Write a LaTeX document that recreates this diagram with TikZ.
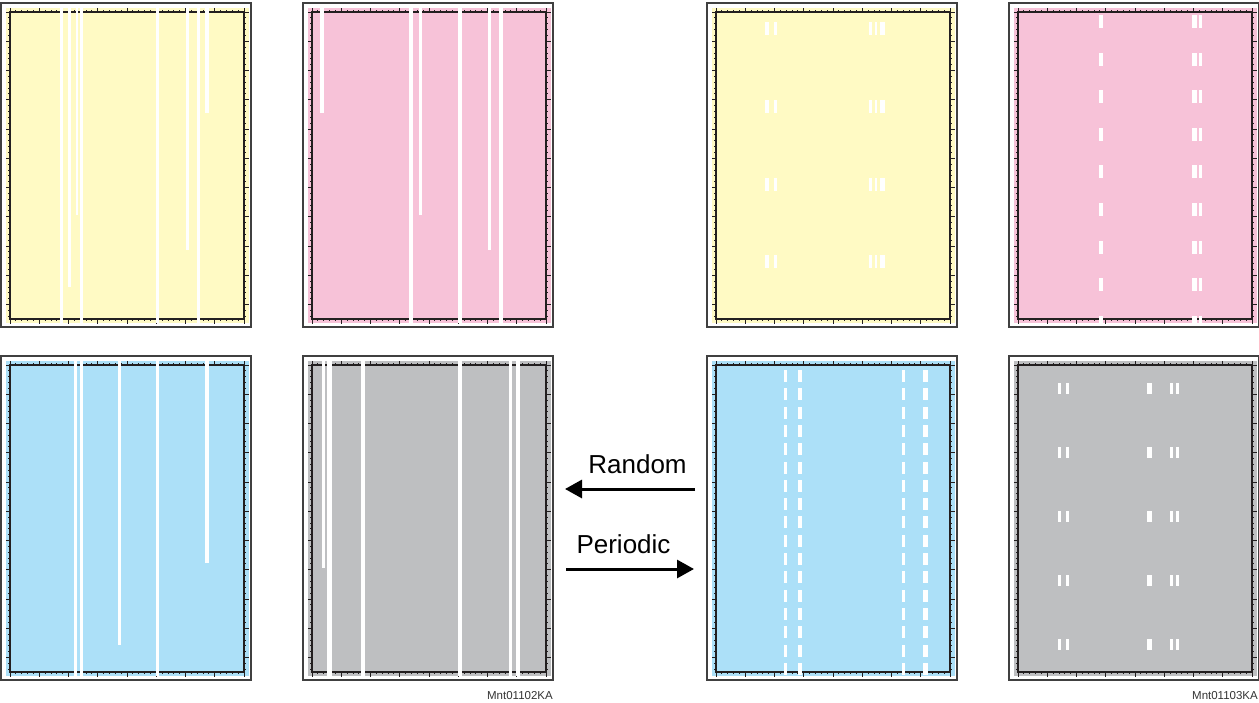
\documentclass[tikz,border=0pt]{standalone}
\usepackage{fontspec}
\setmainfont{Liberation Sans}
\usetikzlibrary{arrows.meta}

\definecolor{tonerY}{RGB}{255,250,196}
\definecolor{tonerM}{RGB}{247,194,216}
\definecolor{tonerC}{RGB}{172,224,248}
\definecolor{tonerK}{RGB}{190,191,193}
\definecolor{rulerink}{RGB}{35,31,32}

\tikzset{
  panelframe/.style={draw=black!75, line width=1.3pt},
  ruler/.style={draw=rulerink, line width=1.6pt},
  rulertick/.style={draw=rulerink, line width=0.9pt},
  streak/.style={fill=white},
  feed/.style={line width=3pt, -{Triangle[length=17pt, width=18pt]}},
  feedtext/.style={font=\fontsize{26}{30}\selectfont, anchor=base, inner sep=0pt},
  partno/.style={font=\fontsize{11.5}{13}\selectfont, text=black!80, anchor=base east, inner sep=0pt}
}

% one test print: frame, toner area and the ruler round it
\newcommand\drawpanel[3]{% x0, y0, toner colour
  \begin{scope}[shift={(#1,#2)}]
    \draw[panelframe] (0,0) rectangle (250,324);
    \fill[#3] (5,5) rectangle (248,320);
    \draw[ruler] (9,9) rectangle (243,316);
    \foreach \i in {0,...,40} {
      \pgfmathsetmacro\tk{2+2.5*(mod(\i,5)==0)}
      \draw[rulertick] (9+\i*5.85,9) -- ++(0,-\tk);
      \draw[rulertick] (9+\i*5.85,316) -- ++(0,\tk);
    }
    \foreach \i in {0,...,52} {
      \pgfmathsetmacro\tk{2+2.5*(mod(\i,5)==0)}
      \draw[rulertick] (9,9+\i*5.85) -- ++(-\tk,0);
      \draw[rulertick] (243,9+\i*5.85) -- ++(\tk,0);
    }
  \end{scope}}

\begin{document}
\begin{tikzpicture}[x=1pt, y=-1pt]
  \useasboundingbox (0,0) rectangle (1259,702);

  % random streaks
  \drawpanel{1}{3}{tonerY}
  \foreach \xl/\xr/\ye in {60/62.5/323, 68/71/287, 75.5/78/215, 80/83/323,
      156/159/323, 186/188.5/250, 197/200/323, 205/209/113}
    \fill[streak] (\xl,8) rectangle (\xr,\ye);

  \drawpanel{303}{3}{tonerM}
  \foreach \xl/\xr/\ye in {320/324/113, 409/413/323, 419/422/215,
      458/462/323, 488/490.5/250, 499/503/323}
    \fill[streak] (\xl,8) rectangle (\xr,\ye);

  \drawpanel{1}{356}{tonerC}
  \foreach \xl/\xr/\ye in {73.5/76.5/676, 80/83/676, 118/121/645,
      156/159/676, 205/209/563}
    \fill[streak] (\xl,361) rectangle (\xr,\ye);

  \drawpanel{303}{356}{tonerK}
  \foreach \xl/\xr/\ye in {322/324.5/568, 327/332/676, 361/365/676,
      458/462/676, 509/512/676, 516/520/676}
    \fill[streak] (\xl,361) rectangle (\xr,\ye);

  % periodic streaks
  \drawpanel{707}{3}{tonerY}
  \begin{scope}
    \clip (712,8) rectangle (955,323);
    \foreach \xl/\xr in {765/768.5, 774/776.5, 869/871.5, 874.5/877, 880/885}
      \foreach \k in {0,...,3}
        \fill[streak] (\xl,22+77.8*\k) rectangle (\xr,35+77.8*\k);
  \end{scope}

  \drawpanel{1009}{3}{tonerM}
  \begin{scope}
    \clip (1014,8) rectangle (1257,323);
    \foreach \xl/\xr in {1099/1103, 1192/1196.5, 1199/1202}
      \foreach \k in {0,...,8}
        \fill[streak] (\xl,15+37.6*\k) rectangle (\xr,28+37.6*\k);
  \end{scope}

  \drawpanel{707}{356}{tonerC}
  \begin{scope}
    \clip (712,361) rectangle (955,676);
    \foreach \xl/\xr in {784/786.5, 798/802, 902/904.5, 923/928}
      \foreach \k in {0,...,16}
        \fill[streak] (\xl,370+18.3*\k) rectangle (\xr,382+18.3*\k);
  \end{scope}

  \drawpanel{1009}{356}{tonerK}
  \begin{scope}
    \clip (1014,361) rectangle (1257,676);
    \foreach \xl/\xr in {1058/1061, 1066/1069, 1147/1151.5, 1170/1173, 1176/1178.5}
      \foreach \k in {0,...,4}
        \fill[streak] (\xl,383+64*\k) rectangle (\xr,394+64*\k);
  \end{scope}

  % labels and arrows
  \node[feedtext] (random) at (637.5,473) {Random};
  \coordinate (random-tail) at (695,489);
  \coordinate (random-head) at (565,489);
  \draw[feed] (random-tail) -- (random-head);

  \node[feedtext] (periodic) at (623.5,553) {Periodic};
  \coordinate (periodic-tail) at (566,569);
  \coordinate (periodic-head) at (694,569);
  \draw[feed] (periodic-tail) -- (periodic-head);

  \node[partno] (part-random) at (553,699) {Mnt01102KA};
  \node[partno] (part-periodic) at (1258,699) {Mnt01103KA};
\end{tikzpicture}
\end{document}
